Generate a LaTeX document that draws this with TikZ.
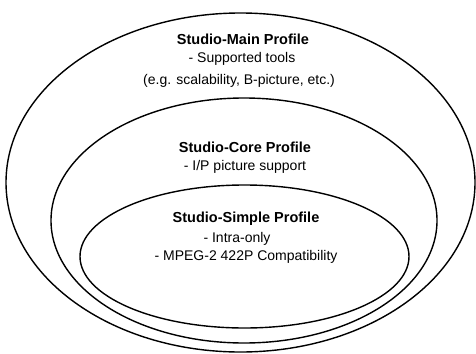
\documentclass[tikz,border=0pt]{standalone}
\usepackage{fontspec}
\setmainfont{Liberation Sans}
\begin{document}
\begin{tikzpicture}[x=1pt,y=-1pt,
  ring/.style={draw=black,line width=1.4pt},
  ttl/.style={font=\fontsize{14.5}{16}\selectfont\bfseries,inner sep=0pt},
  txt/.style={font=\fontsize{14}{16}\selectfont,inner sep=0pt}]
\useasboundingbox (0,0) rectangle (476,353);
\draw[ring] (240.5,182.5) ellipse [x radius=234.5,y radius=169.5];
\draw[ring] (244,220.5) ellipse [x radius=193,y radius=122.5];
\draw[ring] (244.5,256.5) ellipse [x radius=164.5,y radius=71.5];
\node[ttl] (mainT) at (243,39) {Studio-Main Profile};
\node[txt] (mainA) at (242,59) {- Supported tools};
\node[txt] (mainB) at (239,81) {(e.g. scalability, B-picture, etc.)};
\node[ttl] (coreT) at (245,147) {Studio-Core Profile};
\node[txt] (coreA) at (245,167) {- I/P picture support};
\node[ttl] (simT) at (246,219) {Studio-Simple Profile};
\node[txt] (simA) at (237,239) {- Intra-only};
\node[txt] (simB) at (246,257) {- MPEG-2 422P Compatibility};
\end{tikzpicture}
\end{document}
